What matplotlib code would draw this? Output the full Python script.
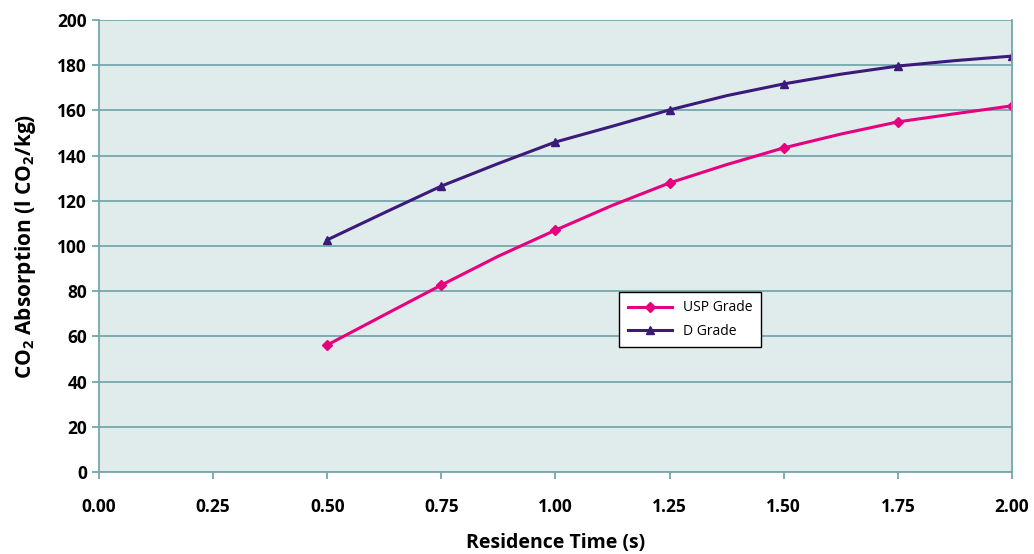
import matplotlib
matplotlib.use("Agg")
import matplotlib.pyplot as plt

# residence time (s); every other point carries a marker
time_s = [0.5, 0.625, 0.75, 0.875, 1.0, 1.125, 1.25, 1.375, 1.5, 1.625, 1.75, 1.875, 2.0]
usp_grade = [56.2, 69.5, 82.7, 95.5, 107.0, 118.0, 127.9, 136.0, 143.4, 149.5, 154.9, 158.5, 162.0]
d_grade = [102.7, 114.7, 126.5, 136.5, 146.0, 153.0, 160.2, 166.5, 171.7, 176.0, 179.6, 182.0, 184.0]

plt.rcParams['font.family'] = ['Open Sans', 'DejaVu Sans']
plt.rcParams['mathtext.fontset'] = 'custom'
plt.rcParams['mathtext.bf'] = 'Open Sans:bold'
plt.rcParams['mathtext.rm'] = 'Open Sans:bold'
teal = '#76a7ad'

fig = plt.figure(figsize=(10.34, 5.54), dpi=100)
ax = fig.add_axes([0.0957, 0.148, 0.883, 0.816])
ax.set_facecolor('#e0ebec')

ax.plot(time_s, usp_grade, color='#e6007e', lw=2.2, marker='D', ms=5.5,
        markevery=2, label='USP Grade')
ax.plot(time_s, d_grade, color='#3b1a7a', lw=2.2, marker='^', ms=6,
        markevery=2, label='D Grade')

ax.set_xlim(0, 2.0)
ax.set_ylim(0, 200)
ax.set_xticks([0, 0.25, 0.5, 0.75, 1.0, 1.25, 1.5, 1.75, 2.0])
ax.set_xticklabels(['0.00', '0.25', '0.50', '0.75', '1.00', '1.25', '1.50', '1.75', '2.00'],
                   fontweight='bold')
ax.set_yticks(range(0, 201, 20))
ax.set_yticklabels([str(v) for v in range(0, 201, 20)], fontweight='bold')
ax.yaxis.grid(True, color=teal, lw=1.3)
ax.set_axisbelow(True)

for s in ['left', 'bottom', 'right']:
    ax.spines[s].set_color(teal)
    ax.spines[s].set_linewidth(1.3)
ax.spines['top'].set_visible(False)
ax.tick_params(colors=teal, width=1.3, length=5, direction='out')
ax.tick_params(axis='x', pad=14)
ax.tick_params(labelcolor='black', labelsize=12.5)

ax.set_xlabel('Residence Time (s)', fontsize=14, fontweight='bold', labelpad=12)
ax.set_ylabel('CO$_\\mathbf{2}$ Absorption (l CO$_\\mathbf{2}$/kg)', fontsize=15,
              fontweight='bold', labelpad=14)

leg = ax.legend(loc='upper left', bbox_to_anchor=(0.570, 0.398),
                fancybox=False, framealpha=1, edgecolor='black',
                fontsize=10, handlelength=3.2, borderpad=0.6, labelspacing=0.6,
                borderaxespad=0)
leg.get_frame().set_linewidth(1.0)

fig.savefig('out.png', dpi=100)
